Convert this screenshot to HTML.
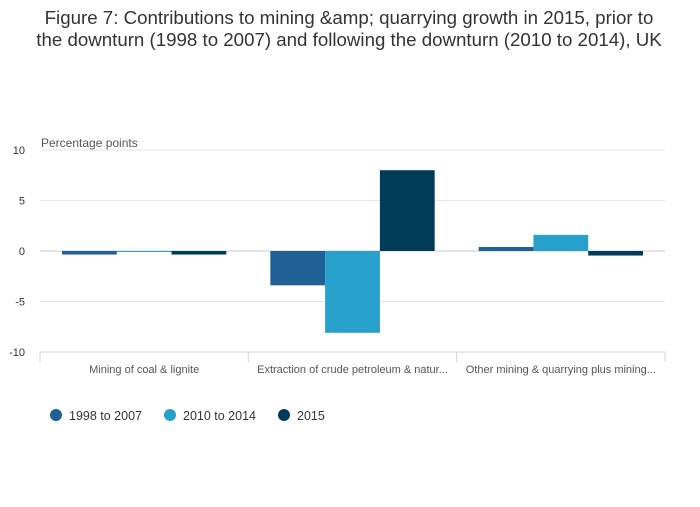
<!DOCTYPE html>
<html><head><meta charset="utf-8"><style>
body{margin:0;background:#fff;font-family:"Liberation Sans",sans-serif;}
svg text{font-family:"Liberation Sans",sans-serif;}
</style></head><body>
<svg id="chart" width="700" height="502">
<text x="349" y="24" text-anchor="middle" font-size="18.7" fill="#333">Figure 7: Contributions to mining &amp;amp; quarrying growth in 2015, prior to</text>
<text x="349" y="46" text-anchor="middle" font-size="18.7" fill="#333">the downturn (1998 to 2007) and following the downturn (2010 to 2014), UK</text>
<text x="41" y="147" font-size="12" fill="#555">Percentage points</text>
<g id="grid"></g><g id="bars"></g><g id="xaxis"></g>
<g id="legend"></g>
</svg>
<script>
const categories=["Mining of coal & lignite","Extraction of crude petroleum & natur...","Other mining & quarrying plus mining..."];
const seriesNames=["1998 to 2007","2010 to 2014","2015"];
const s1998=[-0.35,-3.4,0.4];
const s2010=[-0.1,-8.1,1.6];
const s2015=[-0.35,8.0,-0.45];
const yTicks=[10,5,0,-5,-10];
const colors=["#206095","#27a0cc","#003c57"];
const NS="http://www.w3.org/2000/svg";
const L=40,R=665,T=150,B=352;
const y=v=>T+(10-v)/20*(B-T);
const bw=(R-L)/categories.length;
const x=i=>L+i*bw;
function mk(tag,attrs,parent){const e=document.createElementNS(NS,tag);for(const k in attrs)e.setAttribute(k,attrs[k]);parent.appendChild(e);return e;}
const grid=document.getElementById('grid');
yTicks.forEach(t=>{
 const ln=mk('line',{x1:L,x2:R,y1:y(t),y2:y(t),stroke:t===0?'#ccc':'#e6e6e6'},grid);
 
 
 const tx=mk('text',{x:25,y:y(t)+4,'text-anchor':'end','font-size':11,fill:'#333'},grid);
 tx.textContent=t;
 
 
});
const bars=document.getElementById('bars');
const series=[s1998,s2010,s2015];
const pad=22,barW=(bw-2*pad)/3;
series.forEach((s,si)=>s.forEach((v,i)=>{
 const x0=x(i)+pad+si*barW;
 const r=mk('rect',{x:x0,y:Math.min(y(v),y(0)),width:barW,height:Math.abs(y(v)-y(0)),fill:colors[si]},bars);
 
 
}));
const xa=document.getElementById('xaxis');
const ax=mk('line',{x1:L,x2:R,y1:B,y2:B,stroke:'#ccd6eb'},xa);


for(let i=0;i<=categories.length;i++){
 const tk=mk('line',{x1:x(i),x2:x(i),y1:B,y2:B+10,stroke:'#ccd6eb'},xa);
 
 
}
categories.forEach((c,i)=>{
 const t=mk('text',{x:x(i)+bw/2,y:373,'text-anchor':'middle','font-size':11,fill:'#555'},xa);
 t.textContent=c;
 
 
});
const lg=document.getElementById('legend');
const lx=[56,170,284];
seriesNames.forEach((n,i)=>{
 const c=mk('circle',{cx:lx[i],cy:415,r:6,fill:colors[i]},lg);
 
 
 const t=mk('text',{x:lx[i]+13,y:420,'font-size':12.5,fill:'#333'},lg);
 t.textContent=n;
 
 
});
</script>
</body></html>
